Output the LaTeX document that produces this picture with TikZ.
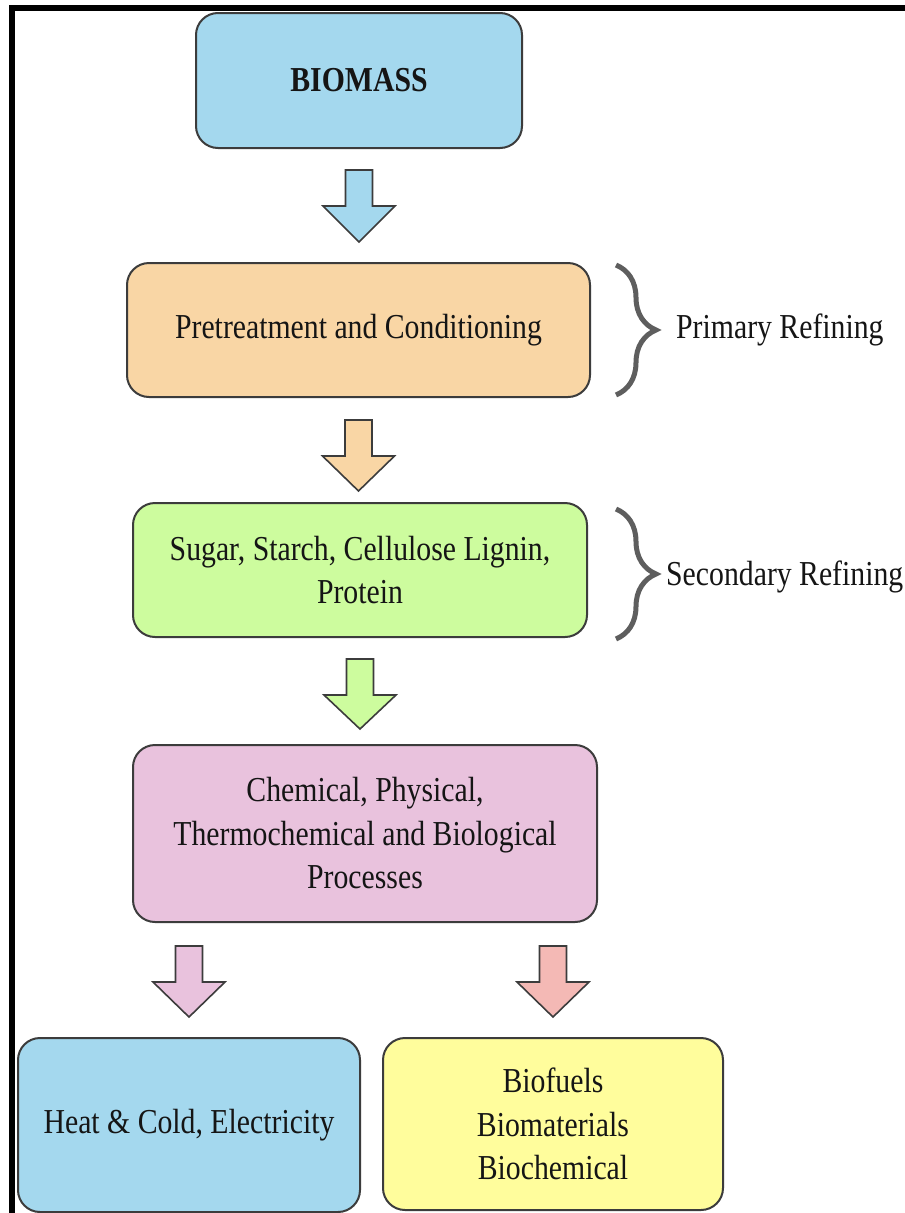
\documentclass[tikz,border=0pt]{standalone}
\usepackage{fontspec}
\setmainfont{Liberation Serif}[FakeStretch=0.85]
\usetikzlibrary{calc,decorations.pathreplacing}

\definecolor{boxline}{HTML}{3C3C3C}
\definecolor{txt}{HTML}{151515}
\definecolor{bracegray}{HTML}{5E5E5E}
\definecolor{skyblue}{HTML}{A4D8EE}
\definecolor{peach}{HTML}{F9D6A5}
\definecolor{lime}{HTML}{CDFC9E}
\definecolor{orchid}{HTML}{E9C2DD}
\definecolor{salmon}{HTML}{F4B9B5}
\definecolor{lemon}{HTML}{FFFD9C}

% block arrow: #1 start of the shaft, #2 tip, #3 fill colour
\newcommand\blockarrow[3]{%
  \filldraw[fill=#3, draw=boxline, line width=1.6pt, line join=miter]
    let \p1=#1, \p2=#2 in
    (\x1-13.5pt,\y1) -- (\x1+13.5pt,\y1) -- (\x1+13.5pt,\y1-36pt)
    -- (\x1+36pt,\y1-36pt) -- (\x1,\y2) -- (\x1-36pt,\y1-36pt)
    -- (\x1-13.5pt,\y1-36pt) -- cycle;}

\begin{document}
\begin{tikzpicture}[x=1pt,y=-1pt,
  box/.style={draw=boxline, line width=2pt, rounded corners=22pt,
    inner sep=0pt, align=center, text=txt,
    font=\fontsize{35}{43.5}\selectfont},
  brc/.style={draw=bracegray, line width=5pt, decorate,
    decoration={brace, amplitude=40pt}},
  lbl/.style={anchor=west, inner sep=0pt, text=txt,
    font=\fontsize{35}{43.5}\selectfont}]

% page and frame
\fill[white] (0,0) rectangle (905,1213);
\useasboundingbox (0,0) rectangle (905,1213);
\fill[black] (9,5) rectangle (905,11);
\fill[black] (9,5) rectangle (15,1213);

% process boxes
\node[box, fill=skyblue, minimum width=326pt, minimum height=135pt]
  (biomass) at (359,80.5) {\textbf{BIOMASS}};
\node[box, fill=peach, minimum width=463pt, minimum height=134pt]
  (pretreat) at (358.5,330) {Pretreatment and Conditioning};
\node[box, fill=lime, minimum width=454pt, minimum height=134pt]
  (sugar) at (360,570) {Sugar, Starch, Cellulose Lignin,\\Protein};
\node[box, fill=orchid, minimum width=464pt, minimum height=177pt]
  (process) at (365,833.5) {Chemical, Physical,\\Thermochemical and Biological\\Processes};
\node[box, fill=skyblue, minimum width=342pt, minimum height=174pt]
  (heat) at (189,1125) {Heat \& Cold, Electricity};
\node[box, fill=lemon, minimum width=340pt, minimum height=172pt]
  (products) at (553,1124) {Biofuels\\Biomaterials\\Biochemical};

% split points under the process box
\coordinate (splitL) at (process.south -| heat.north);
\coordinate (splitR) at (process.south -| products.north);

% block arrows between the stages
\blockarrow{($(biomass.south)+(0,21)$)}{($(pretreat.north)-(0,20)$)}{skyblue}
\blockarrow{($(pretreat.south)+(0,22)$)}{($(sugar.north)-(0,11)$)}{peach}
\blockarrow{($(sugar.south)+(0,21)$)}{($(process.north)-(0,15)$)}{lime}
\blockarrow{($(splitL)+(0,23)$)}{($(heat.north)-(0,20)$)}{orchid}
\blockarrow{($(splitR)+(0,23)$)}{($(products.north)-(0,20)$)}{salmon}

% refining braces
\coordinate (b1t) at ($(pretreat.north east)+(25,3)$);
\coordinate (b1b) at ($(pretreat.south east)+(25,-3)$);
\draw[brc] (b1t) -- (b1b);
\node[lbl] (primary) at ($(b1t)!0.5!(b1b)+(60,0)$) {Primary Refining};

\coordinate (b2t) at ($(sugar.north east)+(28,7)$);
\coordinate (b2b) at ($(sugar.south east)+(28,1)$);
\draw[brc] (b2t) -- (b2b);
\node[lbl] (secondary) at ($(b2t)!0.5!(b2b)+(50,3)$) {Secondary Refining};
\end{tikzpicture}
\end{document}
